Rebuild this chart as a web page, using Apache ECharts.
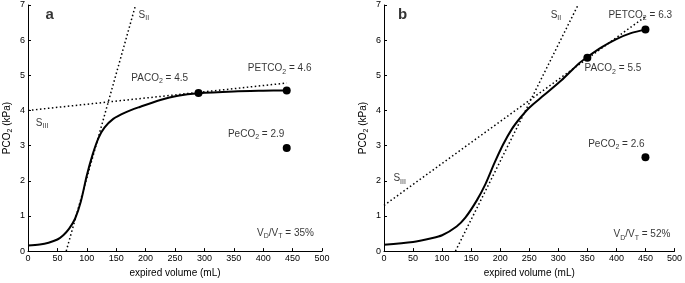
<!DOCTYPE html>
<html>
<head>
<meta charset="utf-8">
<script src="https://cdn.jsdelivr.net/npm/echarts@6/dist/echarts.min.js"></script>
<style>
  html, body { margin: 0; padding: 0; background: #fff; }
  #chart { width: 685px; height: 283px; }
</style>
</head>
<body>
<div id="chart"></div>
<script>
// panel a: capnogram
var volA = [0, 20, 35, 50, 60, 70, 80, 90, 100, 110, 120, 130, 145, 165, 190, 225, 255, 290, 350, 400, 440];
var pco2A = [0.16, 0.19, 0.24, 0.33, 0.45, 0.64, 0.92, 1.42, 2.15, 2.75, 3.22, 3.51, 3.76, 3.94, 4.1, 4.3, 4.42, 4.49, 4.54, 4.56, 4.57];
var dotsAX = [290, 440, 440];
var dotsAY = [4.5, 4.57, 2.93];
var sIIAx = [65, 183], sIIAy = [0, 7];
var sIIIAx = [0, 440], sIIIAy = [4.0, 4.78];

// panel b
var volB = [0, 50, 80, 100, 125, 140, 160, 175, 190, 205, 220, 235, 250, 275, 305, 335, 350, 375, 400, 425, 450];
var pco2B = [0.18, 0.26, 0.36, 0.45, 0.7, 0.95, 1.45, 1.92, 2.5, 3.03, 3.47, 3.8, 4.08, 4.43, 4.85, 5.33, 5.52, 5.8, 6.03, 6.2, 6.3];
var dotsBX = [350, 450, 450];
var dotsBY = [5.5, 6.3, 2.67];
var sIIBx = [123, 334], sIIBy = [0, 7];
var sIIIBx = [0, 450], sIIIBy = [1.3, 6.67];

var FONT = 'Liberation Sans';
var rich = {
  m: { fontSize: 10, fontFamily: FONT, color: '#000' },
  s: { fontSize: 7, fontFamily: FONT, color: '#000', padding: [6, 0, 0, 0] },
  b: { fontSize: 15, fontFamily: FONT, fontWeight: 'bold', color: '#000' }
};

function zip(xs, ys) {
  return xs.map(function (x, i) { return [x, ys[i]]; });
}

function note(idx, x, y, text) {
  return {
    type: 'scatter', xAxisIndex: idx, yAxisIndex: idx,
    symbolSize: 0, silent: true, z: 5,
    data: [[x, y]],
    label: {
      show: true, position: 'inside', align: 'center', verticalAlign: 'middle',
      formatter: text, rich: rich
    }
  };
}

function xAxis(idx) {
  return {
    gridIndex: idx, type: 'value', min: 0, max: 500, interval: 50,
    axisLine: { lineStyle: { color: '#000', width: 1 } },
    axisTick: { inside: true, length: 3, lineStyle: { color: '#000' } },
    axisLabel: { color: '#000', fontSize: 9, fontFamily: FONT, margin: 3 },
    splitLine: { show: false },
    name: 'expired volume (mL)', nameLocation: 'middle', nameGap: 16,
    nameTextStyle: { color: '#000', fontSize: 10, fontFamily: FONT }
  };
}

function yAxis(idx) {
  return {
    gridIndex: idx, type: 'value', min: 0, max: 7, interval: 1,
    axisLine: { lineStyle: { color: '#000', width: 1 } },
    axisTick: { inside: true, length: 3, lineStyle: { color: '#000' } },
    axisLabel: { color: '#000', fontSize: 9, fontFamily: FONT, margin: 3 },
    splitLine: { show: false },
    name: '{m|PCO}{s|2}{m| (kPa)}', nameLocation: 'middle', nameGap: 14,
    nameTextStyle: { rich: rich }
  };
}

function curve(idx, xs, ys) {
  return {
    type: 'line', xAxisIndex: idx, yAxisIndex: idx,
    smooth: 0.3,
    symbol: 'none', data: zip(xs, ys),
    lineStyle: { color: '#000', width: 2 }
  };
}

function dotted(idx, xs, ys) {
  return {
    type: 'line', xAxisIndex: idx, yAxisIndex: idx,
    symbol: 'none', data: zip(xs, ys),
    lineStyle: { color: '#000', width: 1.5, type: [1.5, 2.5] }
  };
}

function dots(idx, xs, ys) {
  return {
    type: 'scatter', xAxisIndex: idx, yAxisIndex: idx, z: 4,
    symbol: 'circle', symbolSize: 8, data: zip(xs, ys),
    itemStyle: { color: '#000', opacity: 1 }
  };
}

var chart = echarts.init(document.getElementById('chart'));
chart.setOption({
  backgroundColor: '#fff',
  animation: false,
  grid: [
    { left: 28, right: 363, top: 5, bottom: 27 },
    { left: 384, right: 8, top: 5, bottom: 27 }
  ],
  xAxis: [xAxis(0), xAxis(1)],
  yAxis: [yAxis(0), yAxis(1)],
  series: [
    dotted(0, sIIAx, sIIAy),
    dotted(0, sIIIAx, sIIIAy),
    curve(0, volA, pco2A),
    dots(0, dotsAX, dotsAY),
    note(0, 37, 6.72, '{b|a}'),
    note(0, 197, 6.72, '{m|S}{s|II}'),
    note(0, 24, 3.65, '{m|S}{s|III}'),
    note(0, 224, 4.91, '{m|PACO}{s|2}{m| = 4.5}'),
    note(0, 428, 5.19, '{m|PETCO}{s|2}{m| = 4.6}'),
    note(0, 388, 3.32, '{m|PeCO}{s|2}{m| = 2.9}'),
    note(0, 438, 0.5, '{m|V}{s|D}{m|/V}{s|T}{m| = 35%}'),

    dotted(1, sIIBx, sIIBy),
    dotted(1, sIIIBx, sIIIBy),
    curve(1, volB, pco2B),
    dots(1, dotsBX, dotsBY),
    note(1, 32, 6.72, '{b|b}'),
    note(1, 296, 6.72, '{m|S}{s|II}'),
    note(1, 441, 6.72, '{m|PETCO}{s|2}{m| = 6.3}'),
    note(1, 394, 5.19, '{m|PACO}{s|2}{m| = 5.5}'),
    note(1, 27, 2.06, '{m|S}{s|III}'),
    note(1, 400, 3.04, '{m|PeCO}{s|2}{m| = 2.6}'),
    note(1, 444, 0.47, '{m|V}{s|D}{m|/V}{s|T}{m| = 52%}')
  ]
});
</script>
</body>
</html>
